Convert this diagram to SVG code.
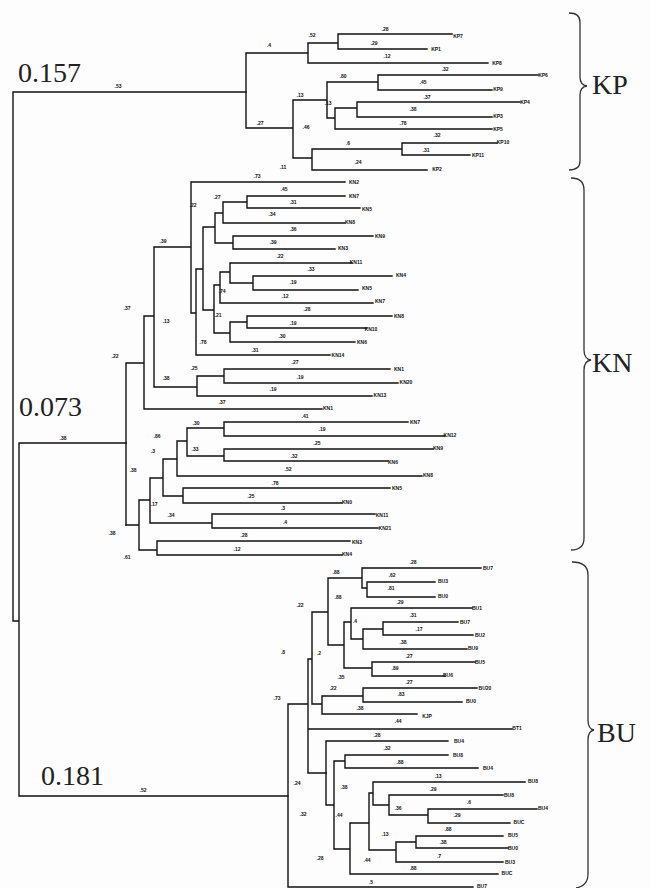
<svg xmlns="http://www.w3.org/2000/svg" width="651" height="888" viewBox="0 0 651 888">
<style>
.t{fill:none;stroke:#111;stroke-width:1.4;stroke-linecap:square}
.b{fill:none;stroke:#333;stroke-width:1.3}
.s{font-family:"Liberation Sans",Arial,sans-serif;font-size:5px;font-weight:bold;fill:#111;text-anchor:middle}
.l{font-family:"Liberation Sans",Arial,sans-serif;font-size:5px;font-weight:bold;fill:#111;text-anchor:middle}
.big{font-family:"Liberation Serif","Times New Roman",serif;font-size:28px;fill:#222}
</style>
<rect width="651" height="888" fill="#fdfdfd"/>
<g id="connectors">
<path class="t" d="M13 92 V621 H19 M19 443 V796 M13 92 H246 M19 443 H126 M19 796 H288"/>
<path class="t" d="M246 53 V128 M246 53 H308 M308 43 V63 M308 43 H338 M338 34 V49 M338 34 H452 M338 49 H427 M308 63 H488 M246 128 H293 M293 100 V158 M293 100 H327 M327 82 V118 M327 82 H378 M378 75 V90 M378 75 H538 M378 90 H492 M327 118 H335 M335 108 V129 M335 108 H357 M357 102 V117 M357 102 H520 M357 117 H492 M335 129 H492 M293 158 H312 M312 149 V170 M312 149 H402 M402 143 V155 M402 143 H497 M402 155 H470 M312 170 H427"/>
<path class="t" d="M126 363 V525 M126 363 H144 M144 316 V409 M144 409 H322 M144 316 H154 M154 247 V387 M154 247 H191 M191 182 V313 M191 182 H345 M191 313 H196 M196 269 V355 M196 355 H330 M196 269 H203 M203 227 V310 M203 227 H215 M215 213 V243 M215 213 H223 M223 202 V223 M223 202 H247 M247 196 V208 M247 196 H345 M247 208 H360 M223 223 H345 M215 243 H233 M233 236 V249 M233 236 H373 M233 249 H335 M203 310 H214 M214 285 V333 M214 285 H220 M220 272 V303 M220 272 H230 M230 263 V283 M230 263 H352 M230 283 H253 M253 276 V290 M253 276 H392 M253 290 H358 M220 303 H373 M214 333 H230 M230 322 V342 M230 322 H247 M247 316 V328 M247 316 H392 M247 328 H367 M230 342 H355 M154 387 H197 M197 376 V396 M197 376 H224 M224 369 V383 M224 369 H390 M224 383 H398 M197 396 H372"/>
<path class="t" d="M126 525 H139 M139 500 V550 M139 500 H150 M150 478 V523 M150 478 H163 M163 459 V496 M163 459 H177 M177 441 V476 M177 441 H187 M187 428 V456 M187 428 H224 M224 422 V436 M224 422 H408 M224 436 H445 M187 456 H224 M224 449 V461 M224 449 H433 M224 461 H388 M177 476 H422 M163 496 H183 M183 488 V503 M183 488 H390 M183 503 H342 M150 523 H212 M212 514 V528 M212 514 H375 M212 528 H378 M139 550 H157 M157 541 V555 M157 541 H350 M157 555 H342"/>
<path class="t" d="M288 704 V887 M288 887 H473 M288 704 H308 M308 659 V773 M308 659 H312 M308 729 H512 M308 773 H326 M312 612 V704 M312 612 H328 M312 704 H322 M322 696 V714 M322 696 H363 M363 688 V702 M363 688 H477 M363 702 H462 M322 714 H417 M328 578 V645 M328 578 H362 M362 568 V588 M362 568 H481 M362 588 H367 M367 582 V597 M367 582 H435 M367 597 H435 M328 645 H344 M344 622 V668 M344 622 H351 M351 608 V639 M351 608 H472 M351 639 H363 M363 629 V649 M363 629 H383 M383 622 V635 M383 622 H458 M383 635 H473 M363 649 H467 M344 668 H372 M372 662 V676 M372 662 H475 M372 676 H445"/>
<path class="t" d="M326 741 V805 M326 741 H448 M326 805 H334 M334 761 V849 M334 761 H345 M345 755 V768 M345 755 H448 M345 768 H478 M334 849 H350 M350 823 V874 M350 874 H498 M350 823 H369 M369 793 V850 M369 793 H373 M373 782 V805 M373 782 H525 M373 805 H389 M389 795 V815 M389 795 H503 M389 815 H428 M428 809 V823 M428 809 H537 M428 823 H510 M369 850 H396 M396 842 V862 M396 842 H416 M416 836 V848 M416 836 H503 M416 848 H508 M396 862 H503"/>
</g>
<g id="support-values">
<text class="s" x="118" y="88">.53</text><text class="s" x="269" y="47">.4</text><text class="s" x="260" y="125">.27</text><text class="s" x="312" y="37">.52</text><text class="s" x="385" y="31">.28</text><text class="s" x="374" y="45">.29</text><text class="s" x="387" y="58">.12</text><text class="s" x="445" y="71">.32</text><text class="s" x="343" y="78">.80</text><text class="s" x="423" y="84">.45</text><text class="s" x="300" y="97">.13</text><text class="s" x="427" y="99">.37</text><text class="s" x="328" y="105">.13</text><text class="s" x="413" y="111">.38</text><text class="s" x="306" y="129">.46</text><text class="s" x="403" y="125">.78</text><text class="s" x="437" y="137">.32</text><text class="s" x="348" y="145">.6</text><text class="s" x="426" y="152">.31</text><text class="s" x="358" y="164">.24</text><text class="s" x="283" y="169">.11</text><text class="s" x="257" y="178">.73</text>
<text class="s" x="284" y="191">.45</text><text class="s" x="217" y="199">.27</text><text class="s" x="293" y="204">.31</text><text class="s" x="272" y="216">.34</text><text class="s" x="293" y="231">.36</text><text class="s" x="273" y="244">.39</text><text class="s" x="193" y="207">.22</text><text class="s" x="163" y="243">.39</text><text class="s" x="280" y="258">.22</text><text class="s" x="311" y="271">.33</text><text class="s" x="293" y="284">.19</text><text class="s" x="222" y="293">.74</text><text class="s" x="285" y="298">.12</text><text class="s" x="218" y="317">.21</text><text class="s" x="307" y="311">.28</text><text class="s" x="293" y="325">.19</text><text class="s" x="282" y="338">.30</text><text class="s" x="203" y="344">.78</text><text class="s" x="255" y="352">.31</text><text class="s" x="127" y="310">.37</text><text class="s" x="166" y="323">.13</text><text class="s" x="115" y="358">.22</text><text class="s" x="295" y="364">.27</text><text class="s" x="194" y="370">.25</text><text class="s" x="166" y="380">.38</text><text class="s" x="300" y="379">.19</text><text class="s" x="273" y="391">.19</text><text class="s" x="222" y="404">.37</text>
<text class="s" x="305" y="418">.41</text><text class="s" x="196" y="425">.30</text><text class="s" x="157" y="438">.86</text><text class="s" x="153" y="453">.3</text><text class="s" x="195" y="451">.33</text><text class="s" x="322" y="431">.19</text><text class="s" x="317" y="445">.25</text><text class="s" x="294" y="458">.32</text><text class="s" x="288" y="471">.52</text><text class="s" x="133" y="472">.38</text><text class="s" x="275" y="485">.78</text><text class="s" x="251" y="498">.25</text><text class="s" x="154" y="506">.17</text><text class="s" x="171" y="517">.34</text><text class="s" x="283" y="510">.3</text><text class="s" x="285" y="524">.4</text><text class="s" x="112" y="535">.38</text><text class="s" x="244" y="537">.28</text><text class="s" x="237" y="551">.12</text><text class="s" x="127" y="559">.61</text><text class="s" x="63" y="440">.38</text>
<text class="s" x="413" y="564">.28</text><text class="s" x="336" y="574">.88</text><text class="s" x="392" y="577">.62</text><text class="s" x="391" y="590">.81</text><text class="s" x="338" y="599">.88</text><text class="s" x="300" y="607">.22</text><text class="s" x="400" y="604">.29</text><text class="s" x="413" y="617">.31</text><text class="s" x="355" y="623">.4</text><text class="s" x="419" y="631">.17</text><text class="s" x="403" y="644">.38</text><text class="s" x="283" y="654">.8</text><text class="s" x="319" y="655">.2</text><text class="s" x="409" y="658">.27</text><text class="s" x="395" y="670">.89</text><text class="s" x="341" y="679">.35</text><text class="s" x="409" y="684">.27</text><text class="s" x="333" y="690">.22</text><text class="s" x="401" y="696">.83</text><text class="s" x="277" y="700">.73</text><text class="s" x="360" y="710">.38</text><text class="s" x="398" y="723">.44</text>
<text class="s" x="377" y="737">.28</text><text class="s" x="387" y="750">.32</text><text class="s" x="400" y="764">.88</text><text class="s" x="297" y="785">.24</text><text class="s" x="344" y="789">.38</text><text class="s" x="438" y="778">.13</text><text class="s" x="433" y="791">.29</text><text class="s" x="469" y="804">.6</text><text class="s" x="398" y="810">.36</text><text class="s" x="457" y="817">.29</text><text class="s" x="303" y="816">.32</text><text class="s" x="339" y="817">.44</text><text class="s" x="385" y="836">.13</text><text class="s" x="448" y="831">.88</text><text class="s" x="443" y="844">.38</text><text class="s" x="439" y="858">.7</text><text class="s" x="320" y="860">.28</text><text class="s" x="367" y="862">.44</text><text class="s" x="413" y="870">.88</text><text class="s" x="371" y="884">.5</text><text class="s" x="143" y="792">.52</text>
</g>
<g id="leaf-labels">
<text class="l" x="458" y="38">KP7</text><text class="l" x="436" y="51">KP1</text><text class="l" x="497" y="65">KP8</text><text class="l" x="543" y="77">KP6</text><text class="l" x="498" y="91">KP9</text><text class="l" x="525" y="104">KP4</text><text class="l" x="498" y="118">KP3</text><text class="l" x="498" y="131">KP5</text><text class="l" x="503" y="144">KP10</text><text class="l" x="478" y="157">KP11</text><text class="l" x="437" y="171">KP2</text>
<text class="l" x="354" y="184">KN2</text><text class="l" x="354" y="198">KN7</text><text class="l" x="367" y="211">KN5</text><text class="l" x="350" y="224">KN8</text><text class="l" x="380" y="238">KN9</text><text class="l" x="343" y="250">KN3</text><text class="l" x="356" y="264">KN11</text><text class="l" x="401" y="277">KN4</text><text class="l" x="367" y="290">KN5</text><text class="l" x="380" y="303">KN7</text><text class="l" x="399" y="318">KN8</text><text class="l" x="371" y="331">KN10</text><text class="l" x="362" y="344">KN6</text><text class="l" x="338" y="357">KN14</text><text class="l" x="399" y="371">KN1</text><text class="l" x="406" y="384">KN20</text><text class="l" x="380" y="397">KN13</text><text class="l" x="328" y="410">KN1</text><text class="l" x="415" y="424">KN7</text><text class="l" x="450" y="437">KN12</text><text class="l" x="438" y="450">KN9</text><text class="l" x="393" y="464">KN6</text><text class="l" x="428" y="477">KN8</text><text class="l" x="397" y="490">KN5</text><text class="l" x="347" y="504">KN0</text><text class="l" x="382" y="517">KN11</text><text class="l" x="385" y="530">KN21</text><text class="l" x="357" y="544">KN3</text><text class="l" x="347" y="556">KN4</text>
<text class="l" x="488" y="570">BU7</text><text class="l" x="443" y="583">BU3</text><text class="l" x="443" y="598">BU0</text><text class="l" x="477" y="610">BU1</text><text class="l" x="465" y="624">BU7</text><text class="l" x="480" y="637">BU2</text><text class="l" x="473" y="650">BU9</text><text class="l" x="480" y="664">BU5</text><text class="l" x="448" y="677">BU6</text><text class="l" x="485" y="690">BU20</text><text class="l" x="471" y="703">BU0</text><text class="l" x="427" y="718">KJP</text><text class="l" x="517" y="730">BT1</text><text class="l" x="459" y="743">BU4</text><text class="l" x="458" y="757">BU8</text><text class="l" x="488" y="770">BU4</text><text class="l" x="533" y="783">BU8</text><text class="l" x="509" y="797">BU8</text><text class="l" x="543" y="810">BU4</text><text class="l" x="519" y="824">BUC</text><text class="l" x="513" y="837">BU5</text><text class="l" x="513" y="850">BU0</text><text class="l" x="510" y="864">BU3</text><text class="l" x="507" y="875">BUC</text><text class="l" x="482" y="888">BU7</text>
</g>
<g id="distance-labels">
<text class="big" x="18" y="82">0.157</text>
<text class="big" x="19" y="416">0.073</text>
<text class="big" x="41" y="785">0.181</text>
</g>
<g id="clade-KP">
<path class="b" d="M569 13 Q580 13 580 22 V77 Q580 85 587 86 Q580 87 580 95 V161 Q580 170 569 170"/>
<text class="big" x="592" y="94">KP</text>
</g>
<g id="clade-KN">
<path class="b" d="M571 178 Q584 178 584 190 V350 Q584 359 591 360 Q584 361 584 370 V538 Q584 550 571 550"/>
<text class="big" x="592" y="372">KN</text>
</g>
<g id="clade-BU">
<path class="b" d="M572 562 Q588 562 588 575 V720 Q588 729 594 730 Q588 731 588 740 V874 Q588 886 576 888"/>
<text class="big" x="597" y="742">BU</text>
</g>
</svg>
